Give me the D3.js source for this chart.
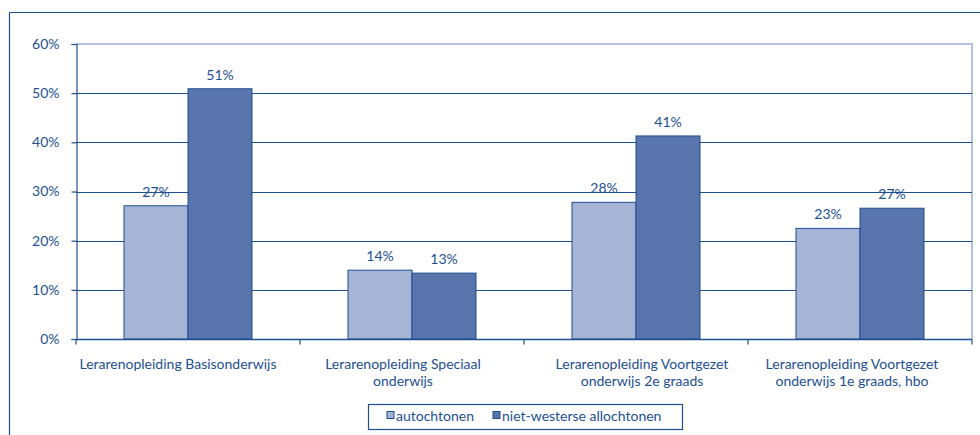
<!DOCTYPE html>
<html><head><meta charset="utf-8">
<script src="https://cdn.jsdelivr.net/npm/d3@7"></script>
<style>body{margin:0;background:#fff}svg{display:block}text{font-family:Lato,"Open Sans",sans-serif;fill:#1d4f91}</style>
</head><body><svg id="c" width="980" height="435"></svg>
<script>
const categories = [["Lerarenopleiding Basisonderwijs"],["Lerarenopleiding Speciaal","onderwijs"],["Lerarenopleiding Voortgezet","onderwijs 2e graads"],["Lerarenopleiding Voortgezet","onderwijs 1e graads, hbo"]];
const seriesNames = ["autochtonen","niet-westerse allochtonen"];
const autochtonen = [27.1, 14.0, 27.8, 22.5];
const nietWesterse = [50.9, 13.4, 41.3, 26.6];
const yTicks = [0,10,20,30,40,50,60];
const colors = ["#a6b4d6","#5a74ae"];
const dark = "#1d4f91";

const svg = d3.select("#c");
const L=76,R=972,T=44,B=339;
const x = d3.scaleBand().domain(d3.range(4)).range([L,R]);
const y = d3.scaleLinear().domain([0,60]).range([B,T]);
const xs = d3.scaleBand().domain([0,1]).range([0,128]);
const labelShift = [-10,-9,6,-8];

// outer frame
svg.append("line").attr("x1",9.5).attr("x2",980).attr("y1",12.5).attr("y2",12.5).attr("stroke",dark).attr("stroke-width",1.2);
svg.append("line").attr("x1",9.5).attr("x2",9.5).attr("y1",12.5).attr("y2",435).attr("stroke",dark).attr("stroke-width",1.2);

// plot border (light)
svg.append("path").attr("d",`M${L},${T}H${R}V${B}`).attr("fill","none").attr("stroke","#b4c0e0").attr("stroke-width",2);

// gridlines
svg.append("g").selectAll("line").data(yTicks.filter(d=>d>0&&d<60)).join("line")
 .attr("x1",L).attr("x2",R).attr("y1",d=>Math.round(y(d))+0.5).attr("y2",d=>Math.round(y(d))+0.5).attr("stroke",dark).attr("stroke-width",1);

// y axis
const ya = svg.append("g").attr("transform",`translate(${L+0.5},0)`).call(d3.axisLeft(y).tickValues(yTicks).tickSize(5).tickPadding(12).tickFormat(d=>d+"%"));
ya.selectAll("path,line").attr("stroke",dark).attr("stroke-width",1.2);
ya.selectAll("text").attr("font-size",14).style("fill",dark).attr("font-family","Lato,sans-serif");

// bars
const data = categories.map((c,i)=>[autochtonen[i],nietWesterse[i]]);
const g = svg.append("g");
data.forEach((vals,i)=>{
  const x0 = x(i)+ (x.bandwidth()-128)/2;
  vals.forEach((v,s)=>{
    g.append("rect").attr("x",x0+xs(s)).attr("y",y(v)).attr("width",xs.bandwidth()).attr("height",B-y(v))
     .attr("fill",colors[s]).attr("stroke",dark).attr("stroke-width",1);
    g.append("text").attr("x",x0+xs(s)+xs.bandwidth()/2).attr("y",y(v)-9).attr("text-anchor","middle").attr("font-size",14).text(Math.round(v)+"%");
  });
});

// x axis
const xa = svg.append("g").attr("transform",`translate(0,${B+0.5})`);
xa.append("line").attr("x1",L).attr("x2",R).attr("stroke",dark).attr("stroke-width",1.5);
xa.selectAll(".t").data(d3.range(5)).join("line").attr("x1",d=>L+d*x.bandwidth()).attr("x2",d=>L+d*x.bandwidth()).attr("y1",0).attr("y2",5).attr("stroke",dark).attr("stroke-width",1.2);
categories.forEach((lines,i)=>{
  const cx = x(i)+x.bandwidth()/2+labelShift[i];
  const t = svg.append("text").attr("x",cx).attr("y",369).attr("text-anchor","middle").attr("font-size",14);
  lines.forEach((ln,j)=>t.append("tspan").attr("x",cx).attr("dy",j?17:0).text(ln));
});

// legend
svg.append("rect").attr("x",368.5).attr("y",404.5).attr("width",314).attr("height",25).attr("fill","#fff").attr("stroke",dark).attr("stroke-width",1.2);
const lx=[387,493];
seriesNames.forEach((n,s)=>{
  svg.append("rect").attr("x",lx[s]).attr("y",411.5).attr("width",7).attr("height",7).attr("fill",colors[s]).attr("stroke",dark).attr("stroke-width",1);
  svg.append("text").attr("x",lx[s]+9).attr("y",421).attr("font-size",14).text(n);
});
</script></body></html>
